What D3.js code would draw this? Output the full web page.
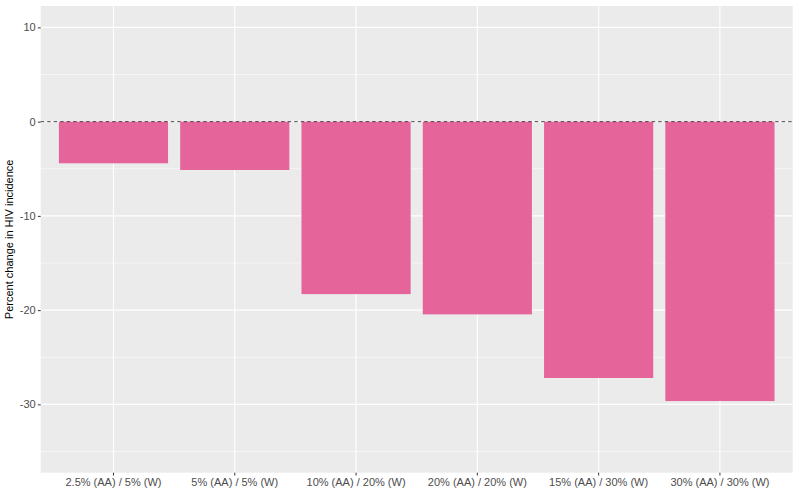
<!DOCTYPE html>
<html><head><meta charset="utf-8">
<script src="https://cdn.jsdelivr.net/npm/d3@7"></script>
<style>body{margin:0;background:#fff}svg{display:block}</style>
</head><body>
<svg id="c" width="800" height="494"></svg>
<script>
const categories = ["2.5% (AA) / 5% (W)", "5% (AA) / 5% (W)", "10% (AA) / 20% (W)", "20% (AA) / 20% (W)", "15% (AA) / 30% (W)", "30% (AA) / 30% (W)"];
const values = [-4.42, -5.13, -18.3, -20.45, -27.2, -29.65];
const yTicks = [10, 0, -10, -20, -30];
const yMinor = [5, -5, -15, -25, -35];
const yTitle = "Percent change in HIV incidence";

const svg = d3.select("#c");
const L = 40.7, R = 792.7, T = 6, B = 472.7;
const y = d3.scaleLinear().domain([-37.25, 12.27]).range([B, T]);
const n = categories.length;
const step = (R - L) / (n - 1 + 1.2);
const x = d3.scaleBand().domain(categories).range([L + 0.1 * step, R - 0.1 * step]).paddingInner(0.1).paddingOuter(0.05);

svg.append("rect").attr("x", L).attr("y", T).attr("width", R - L).attr("height", B - T).attr("fill", "#EBEBEB");
const g = svg.append("g");
g.selectAll(".mn").data(yMinor).enter().append("line")
  .attr("x1", L).attr("x2", R).attr("y1", d => y(d)).attr("y2", d => y(d))
  .attr("stroke", "#fff").attr("stroke-width", 0.55);
g.selectAll(".mj").data(yTicks).enter().append("line")
  .attr("x1", L).attr("x2", R).attr("y1", d => y(d)).attr("y2", d => y(d))
  .attr("stroke", "#fff").attr("stroke-width", 1.1);
g.selectAll(".vx").data(categories).enter().append("line")
  .attr("x1", d => x(d) + x.bandwidth() / 2).attr("x2", d => x(d) + x.bandwidth() / 2)
  .attr("y1", T).attr("y2", B).attr("stroke", "#fff").attr("stroke-width", 1.1);

g.selectAll(".bar").data(values).enter().append("rect")
  .attr("x", (d, i) => x(categories[i]))
  .attr("width", x.bandwidth())
  .attr("y", d => y(Math.max(0, d)))
  .attr("height", d => Math.abs(y(d) - y(0)))
  .attr("fill", "#E5649A");

g.append("line").attr("x1", L).attr("x2", R).attr("y1", y(0)).attr("y2", y(0))
  .attr("stroke", "#3a3a3a").attr("stroke-width", 0.9).attr("stroke-dasharray", "3.5,3");

const yAxis = svg.append("g").attr("transform", `translate(${L},0)`)
  .call(d3.axisLeft(y).tickValues(yTicks).tickSize(2.8).tickPadding(2.2).tickFormat(d => String(d)));
yAxis.select(".domain").remove();
yAxis.selectAll("line").attr("stroke", "#333");
yAxis.selectAll("text").attr("fill", "#4D4D4D").style("font-family", "Liberation Sans, Arial, sans-serif").style("font-size", "11px");

const xAxis = svg.append("g").attr("transform", `translate(0,${B})`)
  .call(d3.axisBottom(x).tickSize(2.8).tickPadding(2.5));
xAxis.select(".domain").remove();
xAxis.selectAll("line").attr("stroke", "#333");
xAxis.selectAll("text").attr("fill", "#4D4D4D").style("font-family", "Liberation Sans, Arial, sans-serif").style("font-size", "11px");

svg.append("text").attr("transform", `translate(12.5,${(T + B) / 2}) rotate(-90)`)
  .attr("text-anchor", "middle").attr("fill", "#000")
  .style("font-family", "Liberation Sans, Arial, sans-serif").style("font-size", "11px")
  .text(yTitle);
</script>
</body></html>
